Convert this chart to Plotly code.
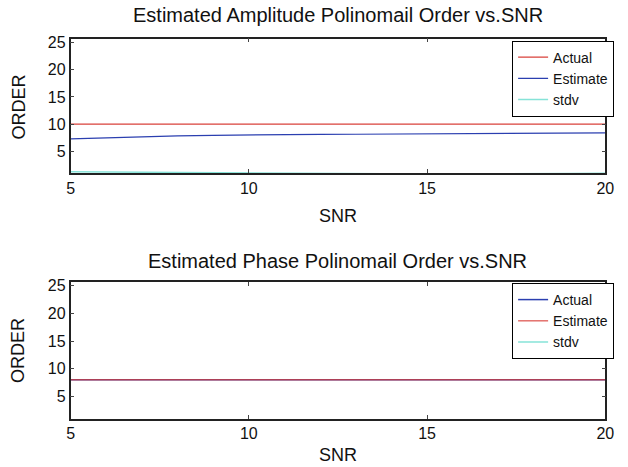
import plotly.graph_objects as go

snr = [5, 6, 7, 8, 9, 10, 11, 12, 13, 14, 15, 16, 17, 18, 19, 20]

amp_actual = [10] * 16
amp_estimate = [7.3, 7.5, 7.7, 7.85, 7.95, 8.05, 8.1, 8.12, 8.15, 8.18, 8.2, 8.23, 8.26, 8.3, 8.33, 8.4]
amp_stdv = [1.25, 1.2, 1.15, 1.08, 1.03, 1.0, 0.98, 0.95, 0.9, 0.88, 0.87, 0.86, 0.86, 0.88, 0.92, 1.0]

ph_actual = [8] * 16
ph_estimate = [8] * 16
ph_stdv = [0] * 16

x_ticks = [5, 10, 15, 20]
y_ticks = [5, 10, 15, 20, 25]

RED = "#d9403a"
BLUE = "#2b3fb0"
CYAN = "#86e3d8"
FONT = "Liberation Sans, Arial, sans-serif"

W, H = 628, 467
def px(x):
    return x / W
def py(y):
    return 1 - y / H

fig = go.Figure()
fig.add_trace(go.Scatter(x=snr, y=amp_actual, name="Actual", mode="lines",
                         line=dict(color=RED, width=1.2), xaxis="x", yaxis="y", legend="legend"))
fig.add_trace(go.Scatter(x=snr, y=amp_estimate, name="Estimate", mode="lines",
                         line=dict(color=BLUE, width=1.2), xaxis="x", yaxis="y", legend="legend"))
fig.add_trace(go.Scatter(x=snr, y=amp_stdv, name="stdv", mode="lines",
                         line=dict(color=CYAN, width=1.5), xaxis="x", yaxis="y", legend="legend"))

fig.add_trace(go.Scatter(x=snr, y=ph_actual, name="Actual", mode="lines",
                         line=dict(color=BLUE, width=1.5), xaxis="x2", yaxis="y2", legend="legend2"))
fig.add_trace(go.Scatter(x=snr, y=ph_estimate, name="Estimate", mode="lines",
                         line=dict(color=RED, width=1.5), opacity=0.75, xaxis="x2", yaxis="y2", legend="legend2"))
fig.add_trace(go.Scatter(x=snr, y=ph_stdv, name="stdv", mode="lines",
                         line=dict(color=CYAN, width=1.5), xaxis="x2", yaxis="y2", legend="legend2"))

xdom = [px(68), px(614)]
axis_common = dict(showline=True, linecolor="#222", linewidth=1.5, mirror="ticks",
                   ticks="inside", ticklen=4, tickcolor="#444", showgrid=False, zeroline=False,
                   tickfont=dict(family=FONT, size=16, color="#111"))

leg_common = dict(xanchor="right", yanchor="top", bgcolor="white",
                  bordercolor="black", borderwidth=1, itemwidth=30, tracegroupgap=0,
                  font=dict(family=FONT, size=14, color="#111"))

fig.update_layout(
    width=W, height=H,
    margin=dict(l=0, r=0, t=0, b=0),
    paper_bgcolor="white", plot_bgcolor="white",
    font=dict(family=FONT, color="#111"),
    xaxis=dict(domain=xdom, range=[5, 20], tickvals=x_ticks, anchor="y", **axis_common),
    yaxis=dict(domain=[py(170), py(34)], range=[1, 25.7], tickvals=y_ticks, anchor="x", **axis_common),
    xaxis2=dict(domain=xdom, range=[5, 20], tickvals=x_ticks, anchor="y2", **axis_common),
    yaxis2=dict(domain=[py(418), py(280)], range=[1, 25.7], tickvals=y_ticks, anchor="x2", **axis_common),
    legend=dict(x=px(623), y=py(36), **leg_common),
    legend2=dict(x=px(623), y=py(281), **leg_common),
    showlegend=True,
)

cx = (68 + 614) / 2 / W
ann = [
    dict(text="Estimated Amplitude Polinomail Order vs.SNR", x=cx, y=py(10), size=20),
    dict(text="Estimated Phase Polinomail Order vs.SNR", x=cx, y=py(259), size=20),
    dict(text="SNR", x=cx, y=py(213), size=18),
    dict(text="SNR", x=cx, y=py(455), size=18),
]
for a in ann:
    fig.add_annotation(text=a["text"], x=a["x"], y=a["y"], xref="paper", yref="paper",
                       showarrow=False, xanchor="center", yanchor="middle",
                       font=dict(family=FONT, size=a["size"], color="#111"))
for yc in [103, 349]:
    fig.add_annotation(text="ORDER", x=px(15), y=py(yc), xref="paper", yref="paper",
                       showarrow=False, textangle=-90, xanchor="center", yanchor="middle",
                       font=dict(family=FONT, size=18, color="#111"))

fig.write_html("out.html",
               config={"displayModeBar": False},
               post_script="document.body.style.margin='0';document.body.style.padding='0';")
